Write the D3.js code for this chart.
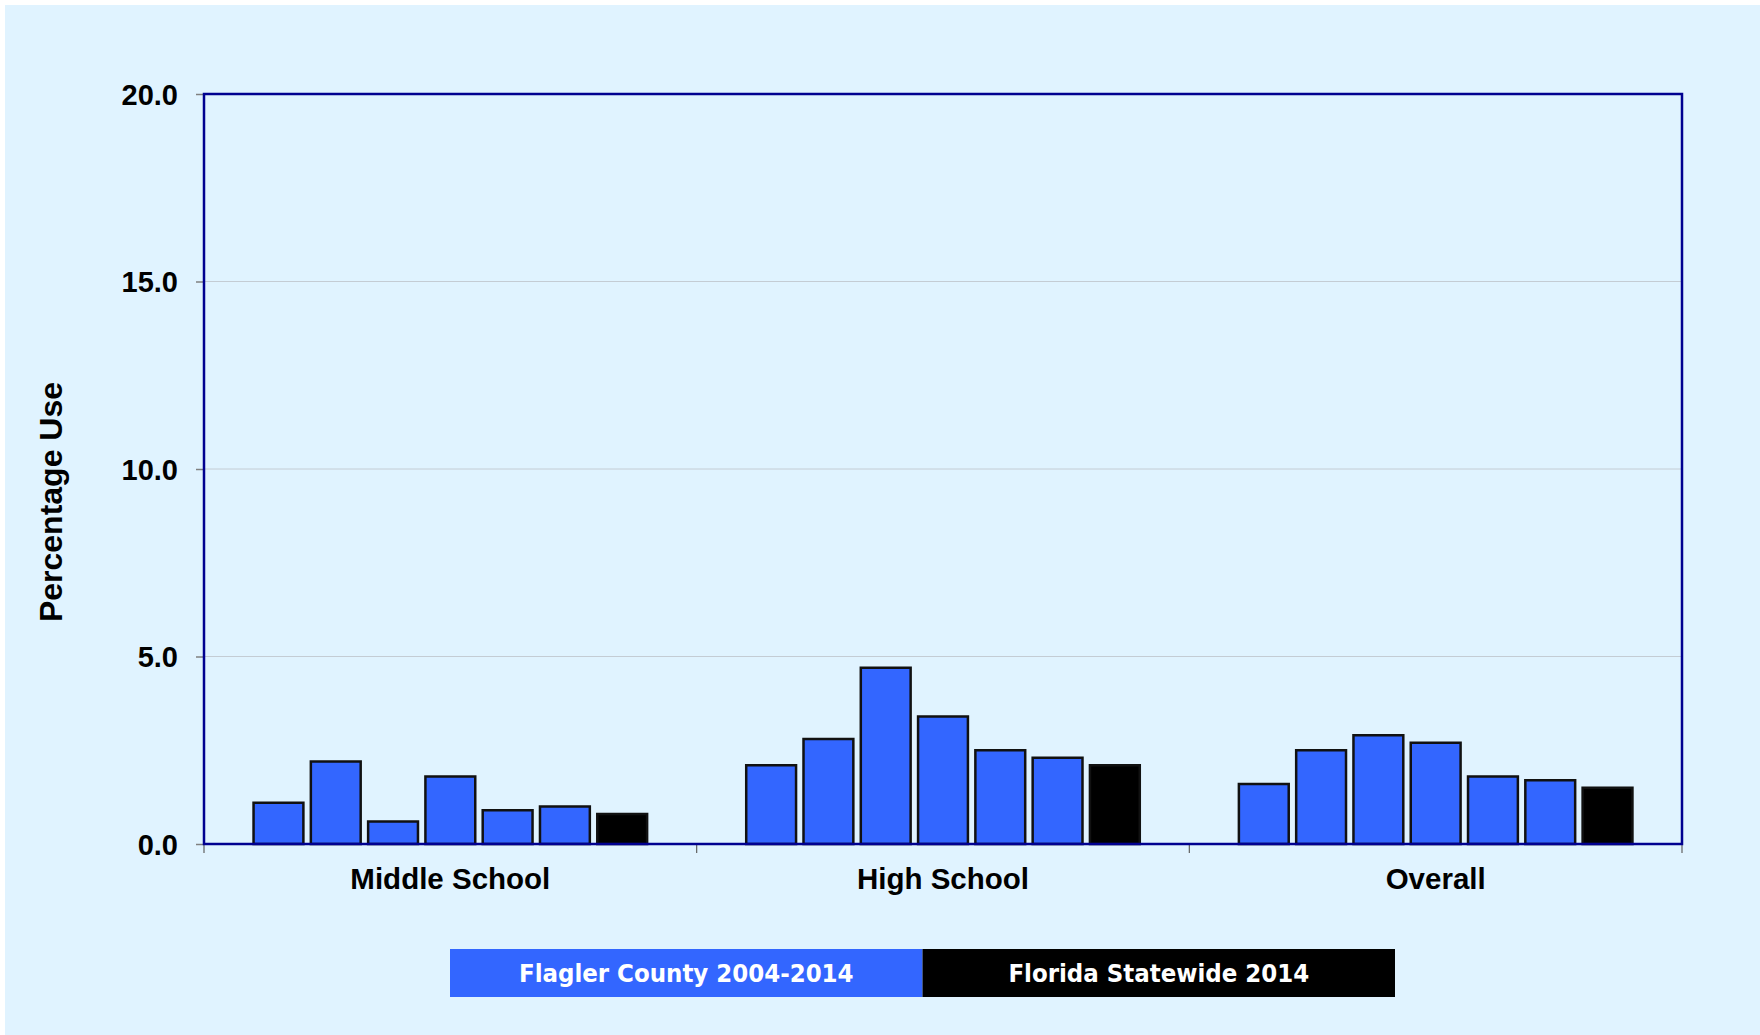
<!DOCTYPE html>
<html>
<head>
<meta charset="utf-8">
<script src="https://cdn.jsdelivr.net/npm/d3@7"></script>
<style>
  body { margin: 0; background: #fff; }
  svg { display: block; }
  .tick-lbl { font-family: "Liberation Sans", Arial, sans-serif; font-weight: bold; font-size: 29px; fill: #000; }
  .cat-lbl { font-family: "Liberation Sans", Arial, sans-serif; font-weight: bold; font-size: 29.5px; fill: #000; }
  .y-title { font-family: "Liberation Sans", Arial, sans-serif; font-weight: bold; font-size: 32px; fill: #000; }
  .leg-lbl { font-family: "Liberation Sans Narrow", "DejaVu Sans Condensed", "Liberation Sans", sans-serif; font-weight: bold; font-size: 25.5px; fill: #fff; }
</style>
</head>
<body>
<script>
const width = 1760, height = 1035;

// data
const groups = ["Middle School", "High School", "Overall"];
const years = ["2004", "2006", "2008", "2010", "2012", "2014", "FL2014"];
const middleSchool = [1.1, 2.2, 0.6, 1.8, 0.9, 1.0, 0.8];
const highSchool = [2.1, 2.8, 4.7, 3.4, 2.5, 2.3, 2.1];
const overall = [1.6, 2.5, 2.9, 2.7, 1.8, 1.7, 1.5];
const yTicks = [0, 5, 10, 15, 20];
const legendLabels = ["Flagler County 2004-2014", "Florida Statewide 2014"];
const legendColors = ["#3366ff", "#000000"];

const series = [middleSchool, highSchool, overall];

const margin = { top: 94, right: 78, bottom: 191, left: 204 };
const plotW = width - margin.left - margin.right;
const plotH = height - margin.top - margin.bottom;

const svg = d3.create("svg")
    .attr("width", width)
    .attr("height", height)
    .attr("viewBox", [0, 0, width, height]);

svg.append("rect")
    .attr("x", 5).attr("y", 5)
    .attr("width", width - 5).attr("height", height - 5)
    .attr("fill", "#e0f3ff");

const g = svg.append("g").attr("transform", `translate(${margin.left},${margin.top})`);

const y = d3.scaleLinear().domain([0, 20]).range([plotH, 0]);
const x0 = d3.scaleBand().domain(groups).range([0, plotW]).padding(0);
const x1 = d3.scaleBand().domain(years).range([0, x0.bandwidth()])
    .paddingInner(0.13).paddingOuter(0.865);

// gridlines
g.append("g")
    .selectAll("line")
    .data(yTicks.filter(d => d > 0 && d < 20))
    .join("line")
    .attr("x1", 0).attr("x2", plotW)
    .attr("y1", d => y(d)).attr("y2", d => y(d))
    .attr("stroke", "#c4ccd4")
    .attr("stroke-width", 1);

// y axis
const yAxis = g.append("g")
    .call(d3.axisLeft(y).tickValues(yTicks).tickFormat(d3.format(".1f")).tickSize(8).tickPadding(18));
yAxis.select(".domain").remove();
yAxis.selectAll(".tick line").attr("stroke", "#808080").attr("stroke-width", 1.5);
yAxis.selectAll(".tick text").attr("class", "tick-lbl").attr("dy", "0.35em");

// x axis ticks at group boundaries
const xAxis = g.append("g")
    .attr("transform", `translate(0,${plotH})`);
xAxis.selectAll("line")
    .data(d3.range(groups.length + 1))
    .join("line")
    .attr("x1", i => i * x0.step()).attr("x2", i => i * x0.step())
    .attr("y1", 0).attr("y2", 9)
    .attr("stroke", "#606060")
    .attr("stroke-width", 1.2);
xAxis.selectAll("text")
    .data(groups)
    .join("text")
    .attr("class", "cat-lbl")
    .attr("x", d => x0(d) + x0.bandwidth() / 2)
    .attr("y", 45)
    .attr("text-anchor", "middle")
    .text(d => d);

// bars
const grp = g.append("g")
    .selectAll("g")
    .data(groups)
    .join("g")
    .attr("transform", d => `translate(${x0(d)},0)`);

grp.selectAll("rect")
    .data((d, i) => series[i].map((v, j) => ({ year: years[j], v })))
    .join("rect")
    .attr("x", d => x1(d.year))
    .attr("width", x1.bandwidth())
    .attr("y", d => y(d.v))
    .attr("height", d => y(0) - y(d.v))
    .attr("fill", d => d.year === "FL2014" ? legendColors[1] : legendColors[0])
    .attr("stroke", "#111")
    .attr("stroke-width", 2.5);

// plot frame
g.append("rect")
    .attr("width", plotW).attr("height", plotH)
    .attr("fill", "none")
    .attr("stroke", "#000090")
    .attr("stroke-width", 2.5);

// y title
svg.append("text")
    .attr("class", "y-title")
    .attr("transform", "translate(62,502) rotate(-90)")
    .attr("text-anchor", "middle")
    .text("Percentage Use");

// legend
const legW = 472.5, legH = 48, legX = 450, legY = 949;
const leg = svg.append("g").attr("transform", `translate(${legX},${legY})`);
leg.selectAll("rect")
    .data(legendLabels)
    .join("rect")
    .attr("x", (d, i) => i * legW)
    .attr("width", legW)
    .attr("height", legH)
    .attr("fill", (d, i) => legendColors[i]);
leg.selectAll("text")
    .data(legendLabels)
    .join("text")
    .attr("class", "leg-lbl")
    .attr("x", (d, i) => i * legW + legW / 2)
    .attr("y", legH / 2)
    .attr("dy", "0.36em")
    .attr("text-anchor", "middle")
    .text(d => d);

document.body.appendChild(svg.node());
</script>
</body>
</html>
